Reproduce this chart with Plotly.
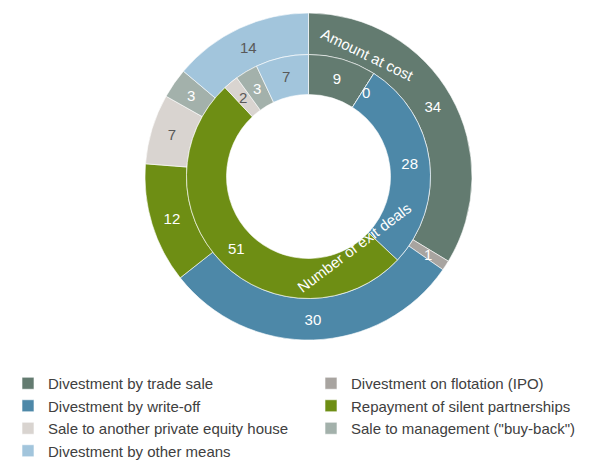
import numpy as np
import plotly.graph_objects as go

categories = [
    "Divestment by trade sale",
    "Divestment on flotation (IPO)",
    "Divestment by write-off",
    "Repayment of silent partnerships",
    "Sale to another private equity house",
    "Sale to management (\"buy-back\")",
    "Divestment by other means",
]
amount_at_cost = [34, 1, 30, 12, 7, 3, 14]
number_of_deals = [9, 0, 28, 51, 2, 3, 7]

colors = ["#637b70", "#a8a4a0", "#4d88a8", "#6e8e14", "#d9d4d0", "#a3b1ab", "#a2c5dc"]
text_colors = ["white", "white", "white", "white", "#595959", "white", "#595959"]

# the page body has an 8px default margin, so the figure is drawn 8px in
OFF = 8
FW, FH = 613 - OFF, 471 - OFF
MB = 120                       # bottom margin kept for the legend
PH = FH - MB
cx, cy = 308.5, 176.5          # ring centre in window pixels
r_out, r_mid, r_hole = 163.5, 122.0, 82.0
SMALL = 0.05                   # slices below this share get a hand-placed label


def px(x, y):
    return (x - OFF) / FW, 1 - (y - OFF) / PH


def dom(r):
    x0, y1 = px(cx - r, cy - r)
    x1, y0 = px(cx + r, cy + r)
    return dict(x=[x0, x1], y=[y0, y1])


def templates(values):
    tot = sum(values)
    return ["%{value}" if v / tot >= SMALL else "" for v in values]


def small_labels(fig, values, r_in, r_o):
    tot = sum(values)
    ends = np.cumsum(values) / tot * 2 * np.pi
    rr = (r_in + r_o) / 2
    for i, v in enumerate(values):
        if v / tot >= SMALL:
            continue
        a = ends[i] - v / tot * np.pi
        if v == 0:
            a += 0.03
        x, y = px(cx + rr * np.sin(a), cy - rr * np.cos(a))
        fig.add_annotation(x=x, y=y, xref="paper", yref="paper", text=str(v),
                           showarrow=False, xanchor="center", yanchor="middle",
                           font=dict(size=15, color=text_colors[i]))


fig = go.Figure()
fig.add_trace(go.Pie(
    labels=categories,
    values=amount_at_cost,
    sort=False,
    direction="clockwise",
    rotation=0,
    hole=r_mid / r_out,
    domain=dom(r_out),
    marker=dict(colors=colors, line=dict(color="white", width=0.6)),
    texttemplate=templates(amount_at_cost),
    textposition="inside",
    insidetextorientation="horizontal",
    textfont=dict(size=15, color=text_colors, family="Liberation Sans, Arial"),
    name="Amount at cost",
))
fig.add_trace(go.Pie(
    labels=categories,
    values=number_of_deals,
    sort=False,
    direction="clockwise",
    rotation=0,
    hole=r_hole / r_mid,
    domain=dom(r_mid),
    marker=dict(colors=colors, line=dict(color="white", width=0.6)),
    texttemplate=templates(number_of_deals),
    textposition="inside",
    insidetextorientation="horizontal",
    textfont=dict(size=15, color=text_colors, family="Liberation Sans, Arial"),
    showlegend=False,
    name="Number of exit deals",
))

small_labels(fig, amount_at_cost, r_mid, r_out)
small_labels(fig, number_of_deals, r_hole, r_mid)

ax, ay = px(367, 55)
fig.add_annotation(x=ax, y=ay, xref="paper", yref="paper",
                   text="Amount at cost", textangle=26, showarrow=False,
                   xanchor="center", yanchor="middle",
                   font=dict(size=15, color="white"))
nx, ny = px(354, 247)
fig.add_annotation(x=nx, y=ny, xref="paper", yref="paper",
                   text="Number of exit deals", textangle=-37, showarrow=False,
                   xanchor="center", yanchor="middle",
                   font=dict(size=15, color="white"))

lx, ly = px(OFF, 367)
fig.update_layout(
    width=FW, height=FH,
    margin=dict(l=0, r=0, t=0, b=MB, autoexpand=False),
    paper_bgcolor="white",
    font=dict(family="Liberation Sans, Arial", size=15, color="#404040"),
    uniformtext=dict(minsize=15, mode="show"),
    legend=dict(
        orientation="h",
        x=lx, y=ly,
        xanchor="left", yanchor="top",
        entrywidth=258,
        font=dict(size=15, color="#404040"),
    ),
)

fig.write_html("out.html")
